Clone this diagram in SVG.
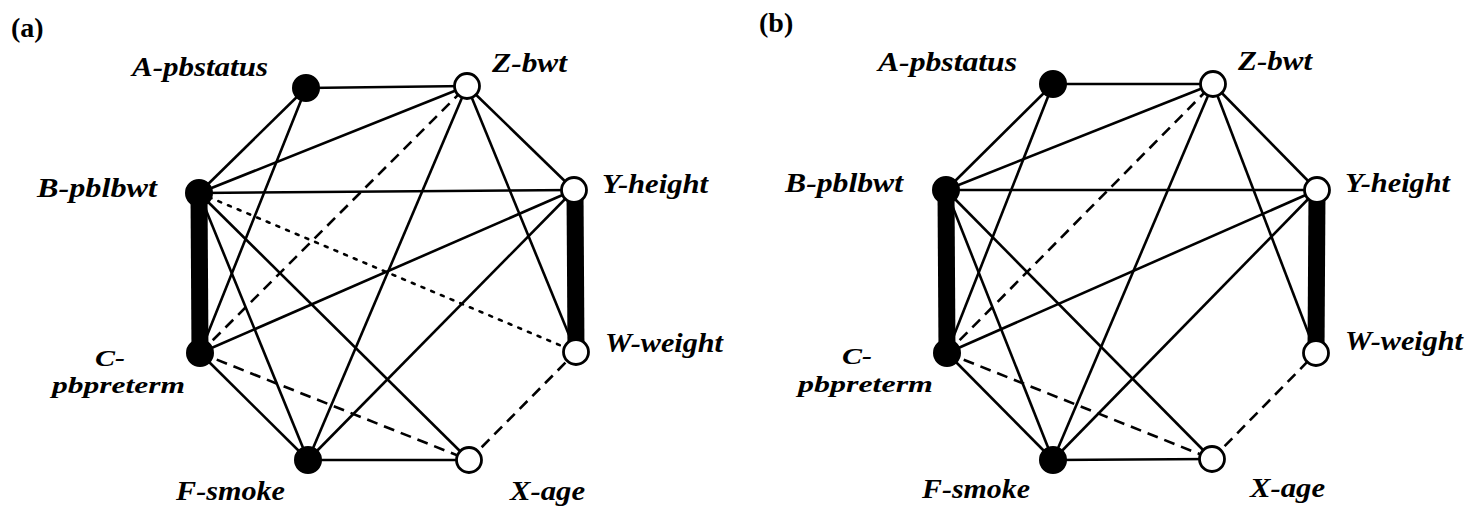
<svg xmlns="http://www.w3.org/2000/svg" width="1473" height="507" viewBox="0 0 1473 507">
<style>
.e{stroke:#000;stroke-width:2.6;fill:none}
.d{stroke-dasharray:11 7}
.o{stroke-dasharray:3 7.5;stroke-linecap:round}
.t{stroke:#000;stroke-width:17;fill:none}
.f{fill:#000;stroke:#000;stroke-width:2}
.w{fill:#fff;stroke:#000;stroke-width:2.8}
.l{font-family:"Liberation Serif",serif;font-style:italic;font-weight:bold;font-size:27px;fill:#000}
.c{font-size:24px}
.p{font-family:"Liberation Serif",serif;font-weight:bold;font-size:28px;fill:#000}
</style>
<rect width="1473" height="507" fill="#fff"/>
<text class="p" x="11" y="37">(a)</text>
<text class="p" x="759" y="32">(b)</text>
<g id="edges-a">
<line class="e" x1="306" y1="88" x2="467" y2="86"/>
<line class="e" x1="306" y1="88" x2="199" y2="193"/>
<line class="e" x1="306" y1="88" x2="200" y2="353"/>
<line class="e" x1="199" y1="193" x2="467" y2="86"/>
<line class="e" x1="199" y1="193" x2="574" y2="190"/>
<line class="e o" x1="199" y1="193" x2="576" y2="352"/>
<line class="e" x1="199" y1="193" x2="308" y2="460"/>
<line class="e" x1="199" y1="193" x2="469" y2="460"/>
<line class="t" x1="199" y1="193" x2="200" y2="353"/>
<line class="e d" x1="200" y1="353" x2="467" y2="86"/>
<line class="e" x1="200" y1="353" x2="574" y2="190"/>
<line class="e" x1="200" y1="353" x2="308" y2="460"/>
<line class="e d" x1="200" y1="353" x2="469" y2="460"/>
<line class="e" x1="467" y1="86" x2="308" y2="460"/>
<line class="e" x1="467" y1="86" x2="576" y2="352"/>
<line class="e" x1="467" y1="86" x2="574" y2="190"/>
<line class="e" x1="574" y1="190" x2="308" y2="460"/>
<line class="t" x1="575" y1="190" x2="576" y2="352"/>
<line class="e" x1="308" y1="460" x2="469" y2="460"/>
<line class="e d" x1="469" y1="460" x2="576" y2="352"/>
</g>
<g id="edges-b">
<line class="e" x1="1053" y1="84" x2="1213" y2="84"/>
<line class="e" x1="1053" y1="84" x2="946" y2="190"/>
<line class="e" x1="1053" y1="84" x2="947" y2="353"/>
<line class="e" x1="946" y1="190" x2="1213" y2="84"/>
<line class="e" x1="946" y1="190" x2="1317" y2="190"/>
<line class="e" x1="946" y1="190" x2="1053" y2="460"/>
<line class="e" x1="946" y1="190" x2="1212" y2="459"/>
<line class="t" x1="946" y1="190" x2="947" y2="353"/>
<line class="e d" x1="947" y1="353" x2="1213" y2="84"/>
<line class="e" x1="947" y1="353" x2="1317" y2="190"/>
<line class="e" x1="947" y1="353" x2="1053" y2="460"/>
<line class="e d" x1="947" y1="353" x2="1212" y2="459"/>
<line class="e" x1="1213" y1="84" x2="1053" y2="460"/>
<line class="e" x1="1213" y1="84" x2="1316" y2="353"/>
<line class="e" x1="1213" y1="84" x2="1317" y2="190"/>
<line class="e" x1="1317" y1="190" x2="1053" y2="460"/>
<line class="t" x1="1317" y1="190" x2="1316" y2="353"/>
<line class="e" x1="1053" y1="460" x2="1212" y2="459"/>
<line class="e d" x1="1212" y1="459" x2="1316" y2="353"/>
</g>
<g id="a-A"><circle class="f" cx="306" cy="88" r="13"/><text class="l" x="132" y="76" textLength="136" lengthAdjust="spacingAndGlyphs">A-pbstatus</text></g>
<g id="a-Z"><circle class="w" cx="467" cy="86" r="12.5"/><text class="l" x="492" y="72" textLength="75" lengthAdjust="spacingAndGlyphs">Z-bwt</text></g>
<g id="a-B"><circle class="f" cx="199" cy="193" r="13"/><text class="l" x="37" y="197" textLength="120" lengthAdjust="spacingAndGlyphs">B-pblbwt</text></g>
<g id="a-Y"><circle class="w" cx="574" cy="190" r="12.5"/><text class="l" x="602" y="193" textLength="106" lengthAdjust="spacingAndGlyphs">Y-height</text></g>
<g id="a-C"><circle class="f" cx="200" cy="353" r="13"/><text class="l c" x="95" y="366" textLength="30" lengthAdjust="spacingAndGlyphs">C-</text><text class="l c" x="52" y="393" textLength="133" lengthAdjust="spacingAndGlyphs">pbpreterm</text></g>
<g id="a-W"><circle class="w" cx="576" cy="352" r="12.5"/><text class="l" x="605" y="352" textLength="118" lengthAdjust="spacingAndGlyphs">W-weight</text></g>
<g id="a-F"><circle class="f" cx="308" cy="460" r="13"/><text class="l" x="176" y="500" textLength="109" lengthAdjust="spacingAndGlyphs">F-smoke</text></g>
<g id="a-X"><circle class="w" cx="469" cy="460" r="12.5"/><text class="l" x="510" y="500" textLength="75" lengthAdjust="spacingAndGlyphs">X-age</text></g>
<g id="b-A"><circle class="f" cx="1053" cy="84" r="13"/><text class="l" x="878" y="71" textLength="139" lengthAdjust="spacingAndGlyphs">A-pbstatus</text></g>
<g id="b-Z"><circle class="w" cx="1213" cy="84" r="12.5"/><text class="l" x="1238" y="70" textLength="74" lengthAdjust="spacingAndGlyphs">Z-bwt</text></g>
<g id="b-B"><circle class="f" cx="946" cy="190" r="13"/><text class="l" x="785" y="192" textLength="118" lengthAdjust="spacingAndGlyphs">B-pblbwt</text></g>
<g id="b-Y"><circle class="w" cx="1317" cy="190" r="12.5"/><text class="l" x="1345" y="192" textLength="105" lengthAdjust="spacingAndGlyphs">Y-height</text></g>
<g id="b-C"><circle class="f" cx="947" cy="353" r="13"/><text class="l c" x="842" y="364" textLength="30" lengthAdjust="spacingAndGlyphs">C-</text><text class="l c" x="798" y="392" textLength="135" lengthAdjust="spacingAndGlyphs">pbpreterm</text></g>
<g id="b-W"><circle class="w" cx="1316" cy="353" r="12.5"/><text class="l" x="1345" y="350" textLength="118" lengthAdjust="spacingAndGlyphs">W-weight</text></g>
<g id="b-F"><circle class="f" cx="1053" cy="460" r="13"/><text class="l" x="922" y="498" textLength="108" lengthAdjust="spacingAndGlyphs">F-smoke</text></g>
<g id="b-X"><circle class="w" cx="1212" cy="459" r="12.5"/><text class="l" x="1250" y="497" textLength="75" lengthAdjust="spacingAndGlyphs">X-age</text></g>
</svg>
